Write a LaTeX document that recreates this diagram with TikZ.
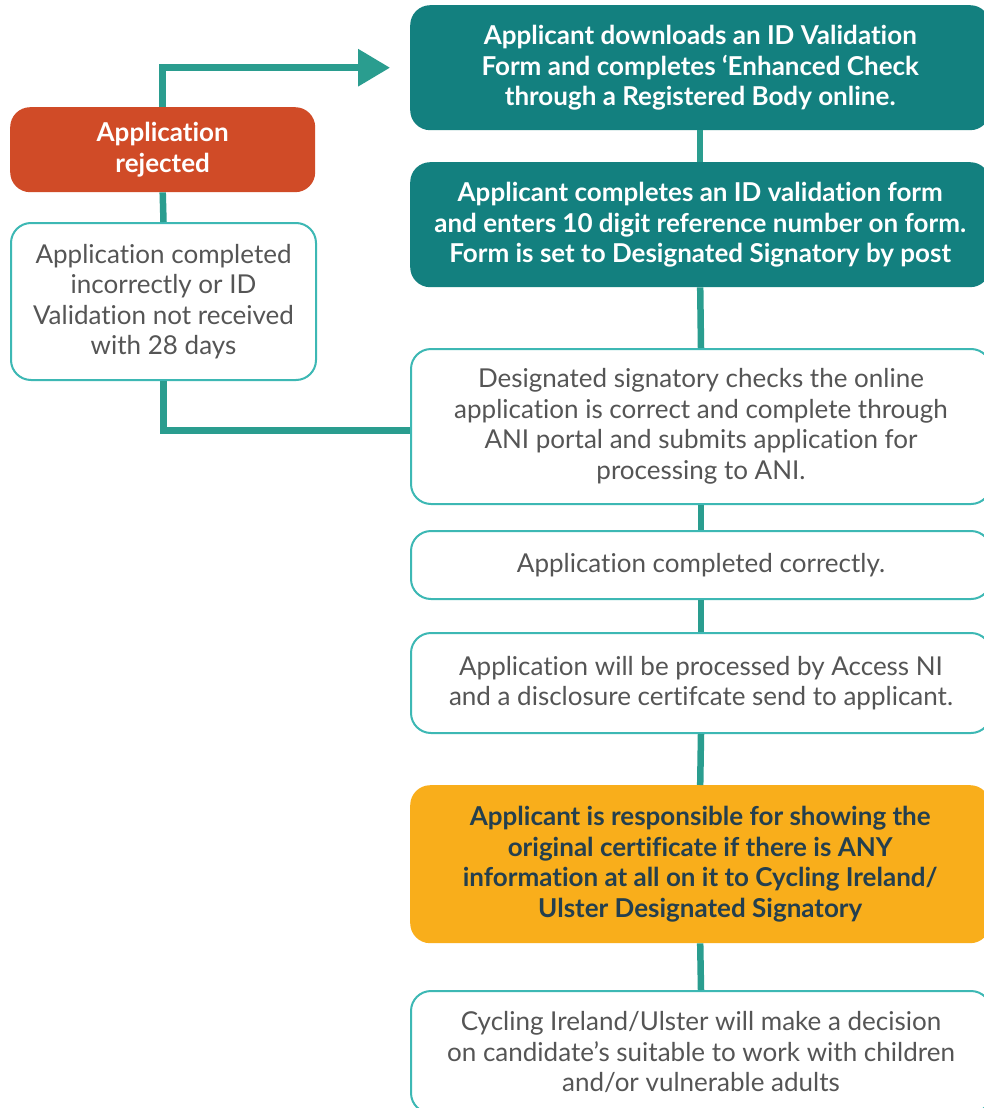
\documentclass[tikz,border=0pt]{standalone}
\usepackage{fontspec}
\setmainfont{Lato}[RawFeature={-liga}]
\usetikzlibrary{arrows.meta}
\definecolor{tealbox}{HTML}{13807F}
\definecolor{tealline}{HTML}{2A9D8F}
\definecolor{tealedge}{HTML}{3DB8B4}
\definecolor{redbox}{HTML}{D04B27}
\definecolor{orangebox}{HTML}{F9AE1B}
\definecolor{graytext}{HTML}{555555}
\definecolor{darktext}{HTML}{243F4E}
\tikzset{
  base/.style={rounded corners=20pt, anchor=north west, align=center, inner sep=0pt,
    font=\fontsize{26}{30.5}\selectfont},
  tealnode/.style={base, fill=tealbox, text=white, font=\fontsize{26}{30.5}\selectfont\bfseries},
  rednode/.style={base, fill=redbox, text=white, font=\fontsize{26}{31}\selectfont\bfseries},
  orangenode/.style={base, fill=orangebox, text=darktext, font=\fontsize{26}{30.5}\selectfont\bfseries},
  whitenode/.style={base, draw=tealedge, line width=2pt, fill=white, text=graytext},
  conn/.style={draw=tealline, line width=6.5pt},
}
\begin{document}
\begin{tikzpicture}[x=1pt,y=-1pt]
\useasboundingbox (0,0) rectangle (984,1108);
\clip (0,0) rectangle (984,1108);
\fill[white] (0,0) rectangle (984,1108);
% right column
\node[tealnode, minimum width=580pt, minimum height=125pt] (b1) at (410,5)
  {Applicant downloads an ID Validation\\Form and completes ‘Enhanced Check\\through a Registered Body online.};
\node[tealnode, minimum width=580pt, minimum height=125pt] (b2) at (410,162)
  {Applicant completes an ID validation form\\and enters 10 digit reference number on form.\\Form is set to Designated Signatory by post};
\node[whitenode, minimum width=580pt, minimum height=155pt] (b3) at (410,348)
  {Designated signatory checks the online\\application is correct and complete through\\ANI portal and submits application for\\processing to ANI.};
\node[whitenode, minimum width=580pt, minimum height=68pt] (b4) at (410,530)
  {Application completed correctly.};
\node[whitenode, minimum width=580pt, minimum height=100pt] (b5) at (410,632)
  {Application will be processed by Access NI\\and a disclosure certifcate send to applicant.};
\node[orangenode, minimum width=580pt, minimum height=158pt] (b6) at (410,785)
  {Applicant is responsible for showing the\\original certificate if there is ANY\\information at all on it to Cycling Ireland/\\Ulster Designated Signatory};
\node[whitenode, minimum width=580pt, minimum height=122pt] (b7) at (410,990)
  {Cycling Ireland/Ulster will make a decision\\on candidate’s suitable to work with children\\and/or vulnerable adults};
% left column
\node[rednode, minimum width=305pt, minimum height=85pt] (rej) at (10,107)
  {Application\\rejected};
\node[whitenode, minimum width=305pt, minimum height=157pt] (note) at (10,222)
  {Application completed\\incorrectly or ID\\Validation not received\\with 28 days};
% connectors
\draw[conn] (b1.south) -- (b2.north);
\draw[conn] (b2.south) -- (b3.north);
\draw[conn] (b3.south) -- (b4.north);
\draw[conn] (b4.south) -- (b5.north);
\draw[conn] (b5.south) -- (b6.north);
\draw[conn] (b6.south) -- (b7.north);
\draw[conn] (rej.south) -- (note.north);
\coordinate (tip) at ([xshift=-20pt]b1.west);
\draw[conn, -{Triangle[length=32pt,width=36pt]}, tealline] (rej.north) |- (tip);
\coordinate (ent) at ([yshift=-4pt]b3.west);
\draw[conn] (note.south) |- (ent);
\end{tikzpicture}
\end{document}
